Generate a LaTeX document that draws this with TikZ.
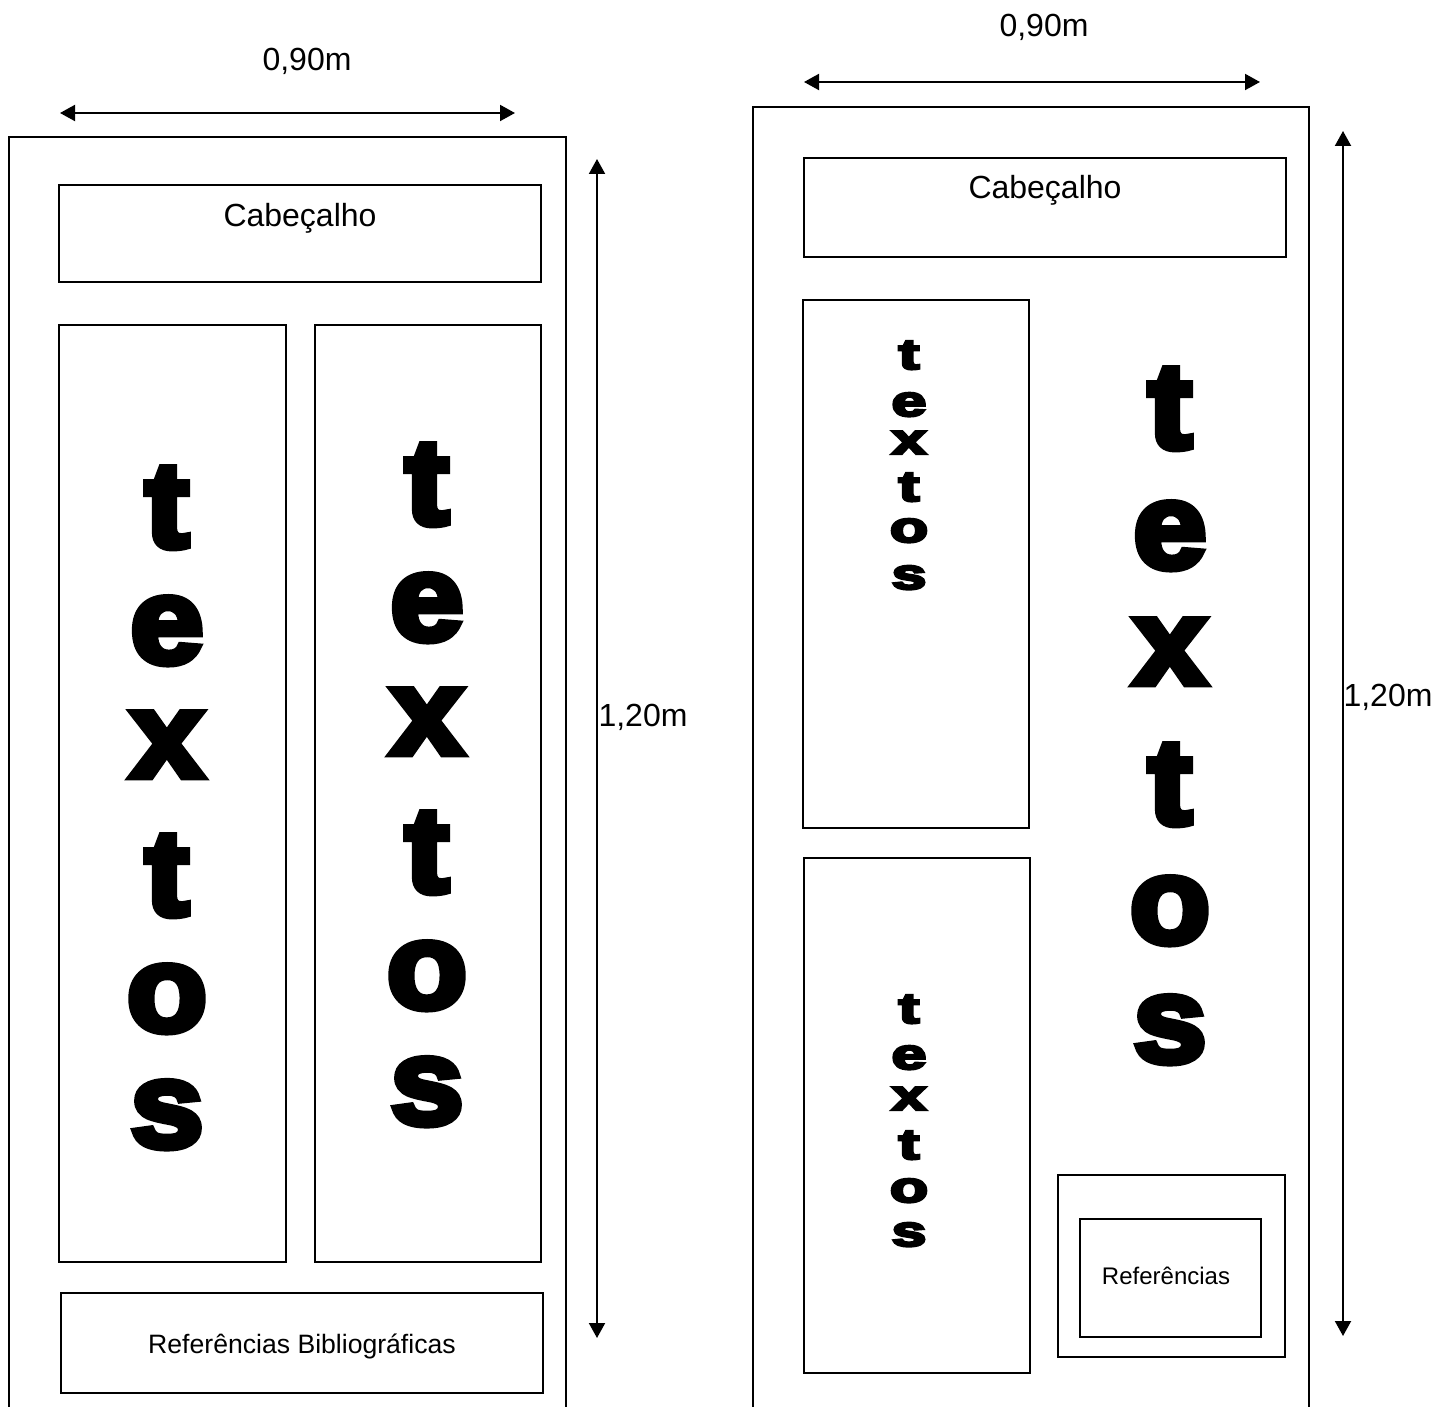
\documentclass[tikz,border=0pt]{standalone}
\usepackage{fontspec}
\setmainfont{Liberation Sans}
\newfontfamily\heavy[FakeBold=5.5]{Liberation Sans}
\usetikzlibrary{arrows.meta,fit}
\begin{document}
\begin{tikzpicture}[x=0.5pt,y=-0.5pt,
  box/.style={draw, line width=1pt, inner sep=0pt},
  frame/.style={draw, line width=1pt},
  dim/.style={line width=1pt, {Triangle[length=7.5pt,width=8pt]}-{Triangle[length=7.5pt,width=8pt]}},
  lbl/.style={font=\fontsize{16}{19}\selectfont, inner sep=0pt, anchor=base},
  reflbl/.style={font=\fontsize{13.3}{16}\selectfont, inner sep=0pt, anchor=base},
  big/.style={font=\heavy\bfseries\fontsize{61}{61}\selectfont, anchor=base, inner sep=0pt},
  small/.style={font=\heavy\bfseries\fontsize{21.5}{21.5}\selectfont, anchor=base, inner sep=0pt}]
\useasboundingbox (0,0) rectangle (1437,1407);

% ---------- left poster ----------
\coordinate (Lbl) at (9,1408);
\coordinate (Ltl) at (9,137);
\coordinate (Ltr) at (566,137);
\coordinate (Lbr) at (566,1408);
\draw[frame] (Lbl) -- (Ltl) -- (Ltr) -- (Lbr);

\coordinate (cab1a) at (59,185); \coordinate (cab1b) at (541,282);
\node[box, fit=(cab1a)(cab1b)] (cab1) {};
\node[lbl] (cab1t) at (300,227) {Cabeçalho};

\coordinate (col1a) at (59,325); \coordinate (col1b) at (286,1262);
\node[box, fit=(col1a)(col1b)] (col1) {};
\coordinate (col2a) at (315,325); \coordinate (col2b) at (541,1262);
\node[box, fit=(col2a)(col2b)] (col2) {};

\coordinate (ref1a) at (61,1293); \coordinate (ref1b) at (543,1393);
\node[box, fit=(ref1a)(ref1b)] (ref1) {};
\node[reflbl] (ref1t) at (302,1353) {Referências Bibliográficas};

\node[big] (a1) at (167,547) {\scalebox{1.08}[1]{t}};
\node[big] (a2) at (167,663) {\scalebox{1.08}[1]{e}};
\node[big] (a3) at (167,777) {\scalebox{1.08}[1]{x}};
\node[big] (a4) at (167,915) {\scalebox{1.08}[1]{t}};
\node[big] (a5) at (167,1031) {\scalebox{1.08}[1]{o}};
\node[big] (a6) at (167,1147) {\scalebox{1.08}[1]{s}};

\node[big] (b1) at (427,524) {\scalebox{1.08}[1]{t}};
\node[big] (b2) at (427,640) {\scalebox{1.08}[1]{e}};
\node[big] (b3) at (427,754) {\scalebox{1.08}[1]{x}};
\node[big] (b4) at (427,892) {\scalebox{1.08}[1]{t}};
\node[big] (b5) at (427,1008) {\scalebox{1.08}[1]{o}};
\node[big] (b6) at (427,1124) {\scalebox{1.08}[1]{s}};

\coordinate (h1a) at (60,113); \coordinate (h1b) at (515,113);
\draw[dim] (h1a) -- (h1b);
\node[lbl] (w1) at (307,71) {0,90m};

\coordinate (v1a) at (597,159); \coordinate (v1b) at (597,1338);
\draw[dim] (v1a) -- (v1b);
\node[lbl] (hgt1) at (643,726) {1,20m};

% ---------- right poster ----------
\coordinate (Rbl) at (753,1408);
\coordinate (Rtl) at (753,107);
\coordinate (Rtr) at (1309,107);
\coordinate (Rbr) at (1309,1408);
\draw[frame] (Rbl) -- (Rtl) -- (Rtr) -- (Rbr);

\coordinate (cab2a) at (804,158); \coordinate (cab2b) at (1286,257);
\node[box, fit=(cab2a)(cab2b)] (cab2) {};
\node[lbl] (cab2t) at (1045,199) {Cabeçalho};

\coordinate (sb1a) at (803,300); \coordinate (sb1b) at (1029,828);
\node[box, fit=(sb1a)(sb1b)] (sb1) {};
\coordinate (sb2a) at (804,858); \coordinate (sb2b) at (1030,1373);
\node[box, fit=(sb2a)(sb2b)] (sb2) {};

\coordinate (rfoa) at (1058,1175); \coordinate (rfob) at (1285,1357);
\node[box, fit=(rfoa)(rfob)] (rfo) {};
\coordinate (rfia) at (1080,1219); \coordinate (rfib) at (1261,1337);
\node[box, fit=(rfia)(rfib)] (rfi) {};
\node[reflbl, font=\fontsize{12}{14}\selectfont] (rfit) at (1166,1284) {Referências};

\node[small] (c1) at (909,369) {\scalebox{1.45}[1]{t}};
\node[small] (c2) at (909,416) {\scalebox{1.45}[1]{e}};
\node[small] (c3) at (909,454) {\scalebox{1.45}[1]{x}};
\node[small] (c4) at (909,501) {\scalebox{1.45}[1]{t}};
\node[small] (c5) at (909,542) {\scalebox{1.45}[1]{o}};
\node[small] (c6) at (909,589) {\scalebox{1.45}[1]{s}};

\node[small] (d1) at (909,1023) {\scalebox{1.45}[1]{t}};
\node[small] (d2) at (909,1069) {\scalebox{1.45}[1]{e}};
\node[small] (d3) at (909,1110) {\scalebox{1.45}[1]{x}};
\node[small] (d4) at (909,1159) {\scalebox{1.45}[1]{t}};
\node[small] (d5) at (909,1202) {\scalebox{1.45}[1]{o}};
\node[small] (d6) at (909,1246) {\scalebox{1.45}[1]{s}};

\node[big] (e1) at (1170,448) {\scalebox{1.08}[1]{t}};
\node[big] (e2) at (1170,568) {\scalebox{1.08}[1]{e}};
\node[big] (e3) at (1170,684) {\scalebox{1.08}[1]{x}};
\node[big] (e4) at (1170,824) {\scalebox{1.08}[1]{t}};
\node[big] (e5) at (1170,943) {\scalebox{1.08}[1]{o}};
\node[big] (e6) at (1170,1062) {\scalebox{1.08}[1]{s}};

\coordinate (h2a) at (804,82); \coordinate (h2b) at (1260,82);
\draw[dim] (h2a) -- (h2b);
\node[lbl] (w2) at (1044,37) {0,90m};

\coordinate (v2a) at (1343,131); \coordinate (v2b) at (1343,1336);
\draw[dim] (v2a) -- (v2b);
\node[lbl] (hgt2) at (1388,706) {1,20m};
\end{tikzpicture}
\end{document}
